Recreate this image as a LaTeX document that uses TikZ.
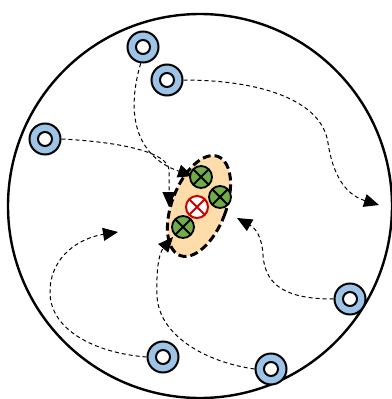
\documentclass[tikz,border=0pt]{standalone}
\usetikzlibrary{shapes.geometric,arrows.meta}
\definecolor{ringblue}{HTML}{9DC3E6}
\definecolor{clusterfill}{HTML}{FFDDAA}
\definecolor{gfill}{HTML}{70AD47}
\definecolor{rline}{HTML}{CC0000}
\tikzset{
  ring/.style={circle, draw, line width=2pt, fill=ringblue, minimum size=31pt, inner sep=0pt,
    path picture={\draw[line width=2pt, fill=white] (path picture bounding box.center) circle (7pt);}},
  gcross/.style={circle, draw, line width=1.8pt, fill=gfill, minimum size=22pt, inner sep=0pt,
    path picture={\draw[line width=1.8pt] (path picture bounding box.north east) -- (path picture bounding box.south west)
      (path picture bounding box.north west) -- (path picture bounding box.south east);}},
  rcross/.style={circle, draw=rline, line width=2pt, fill=white, minimum size=22pt, inner sep=0pt,
    path picture={\draw[line width=2pt, rline] (path picture bounding box.north east) -- (path picture bounding box.south west)
      (path picture bounding box.north west) -- (path picture bounding box.south east);}},
  cluster/.style={ellipse, draw, line width=3pt, dash pattern=on 8pt off 4pt, fill=clusterfill,
    minimum width=54pt, minimum height=106pt, inner sep=0pt},
  conn/.style={line width=1pt, dash pattern=on 4pt off 3pt, -{Triangle[length=15pt,width=13pt]}},
}
\begin{document}
\begin{tikzpicture}[x=1pt,y=-1pt]
\useasboundingbox (0,0) rectangle (391,399);
\node[circle, draw, line width=2.4pt, minimum size=384pt, inner sep=0pt] (world) at (200,206) {};
\node[cluster, rotate=-21] (cl) at (199,206) {};
\node[ring] (r1) at (143,47) {};
\node[ring] (r2) at (167,80) {};
\node[ring] (r3) at (45,139) {};
\node[ring] (r4) at (163,357) {};
\node[ring] (r5) at (350,299) {};
\node[ring] (r6) at (271,369) {};
\coordinate (t1) at (193,176);
\coordinate (t3) at (169,207);
\coordinate (t2) at (379,205);
\coordinate (t4) at (118,232);
\coordinate (t6) at (173,237);
\coordinate (t5) at (237,218);
\draw[conn] (r1.262) .. controls (124,120) and (140,158) .. (t1);
\draw[conn] (r3.east) .. controls (120,142) and (168,152) .. (169,170) -- (t3);
\draw[conn] (r2.east) .. controls (260,80) and (322,100) .. (328,143) .. controls (334,182) and (350,196) .. (t2);
\draw[conn] (r4.west) .. controls (95,353) and (50,330) .. (50,292) .. controls (50,256) and (80,238) .. (t4);
\draw[conn] (r6.west) .. controls (205,362) and (158,335) .. (157,295) .. controls (156,265) and (160,252) .. (t6);
\draw[conn] (r5.west) .. controls (290,299) and (265,288) .. (263,255) .. controls (262,236) and (255,228) .. (t5);
\node[gcross] (g1) at (201,177) {};
\node[gcross] (g2) at (220,197) {};
\node[gcross] (g3) at (183,227) {};
\node[rcross] (x1) at (197,207) {};
\end{tikzpicture}
\end{document}
